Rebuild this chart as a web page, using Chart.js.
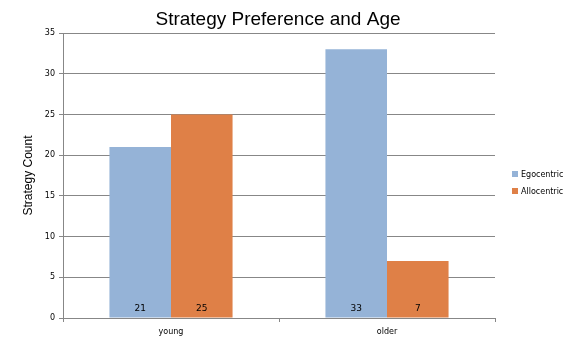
<!DOCTYPE html>
<html>
<head>
<meta charset="utf-8">
<script src="https://cdn.jsdelivr.net/npm/chart.js@4"></script>
<style>
  html, body { margin: 0; padding: 0; background: #fff; }
  #wrap { width: 586px; height: 360px; }
</style>
</head>
<body>
<div id="wrap"><canvas id="strategyChart"></canvas></div>
<script>
const categories = ["young", "older"];
const egocentric = [21, 33];
const allocentric = [25, 7];
const yTicks = [0, 5, 10, 15, 20, 25, 30, 35];
const chartTitle = "Strategy Preference and Age";

const gridColor = "#878787";

// value labels near the bottom of each bar
const barLabels = {
  id: "barLabels",
  afterDatasetsDraw(chart) {
    const ctx = chart.ctx;
    const yScale = chart.scales.y;
    ctx.save();
    ctx.font = "9px 'DejaVu Sans'";
    ctx.fillStyle = "#000";
    ctx.textAlign = "center";
    ctx.textBaseline = "middle";
    chart.data.datasets.forEach((ds, i) => {
      chart.getDatasetMeta(i).data.forEach((bar, j) => {
        ctx.fillText(String(ds.data[j]), bar.x, yScale.getPixelForValue(0) - 9);
      });
    });
    ctx.restore();
  },
};

// title centred on the whole picture, legend at the right (Excel style)
const titleAndLegend = {
  id: "titleAndLegend",
  afterDraw(chart) {
    const ctx = chart.ctx;
    ctx.save();
    ctx.font = "19px 'Liberation Sans'";
    ctx.fillStyle = "#000";
    ctx.textAlign = "center";
    ctx.textBaseline = "middle";
    ctx.fillText(chartTitle, 278, 20);

    ctx.font = "8px 'DejaVu Sans'";
    ctx.textAlign = "left";
    chart.data.datasets.forEach((ds, i) => {
      const y = 174 + i * 17;
      ctx.fillStyle = ds.backgroundColor;
      ctx.fillRect(512, y - 3, 6, 6);
      ctx.fillStyle = "#000";
      ctx.fillText(ds.label, 521, y + 0.5);
    });
    ctx.restore();
  },
};

new Chart(document.getElementById("strategyChart"), {
  type: "bar",
  data: {
    labels: categories,
    datasets: [
      { label: "Egocentric", data: egocentric, backgroundColor: "#95B3D7" },
      { label: "Allocentric", data: allocentric, backgroundColor: "#DF8047" },
    ],
  },
  options: {
    responsive: true,
    maintainAspectRatio: false,
    animation: false,
    layout: { padding: { top: 33, right: 91, bottom: 0, left: 0 } },
    datasets: { bar: { barPercentage: 1, categoryPercentage: 0.57 } },
    plugins: {
      legend: { display: false },
      tooltip: { enabled: false },
      title: { display: false },
    },
    scales: {
      x: {
        afterFit(scale) { scale.height = 42; },
        grid: {
          drawOnChartArea: false,
          drawTicks: true,
          tickLength: 4,
          color: gridColor,
        },
        border: { color: gridColor },
        ticks: {
          color: "#000",
          padding: 5,
          font: { family: "'DejaVu Sans'", size: 8 },
        },
      },
      y: {
        min: 0,
        max: 35,
        afterFit(scale) { scale.width = 63; },
        afterBuildTicks(scale) {
          scale.ticks = yTicks.map((v) => ({ value: v }));
        },
        grid: { color: gridColor, tickLength: 4 },
        border: { color: gridColor },
        ticks: {
          color: "#000",
          padding: 4,
          font: { family: "'DejaVu Sans'", size: 8 },
        },
        title: {
          display: true,
          text: "Strategy Count",
          color: "#000",
          font: { family: "'Liberation Sans'", size: 12 },
          padding: { top: 21, bottom: 0 },
        },
      },
    },
  },
  plugins: [barLabels, titleAndLegend],
});
</script>
</body>
</html>
